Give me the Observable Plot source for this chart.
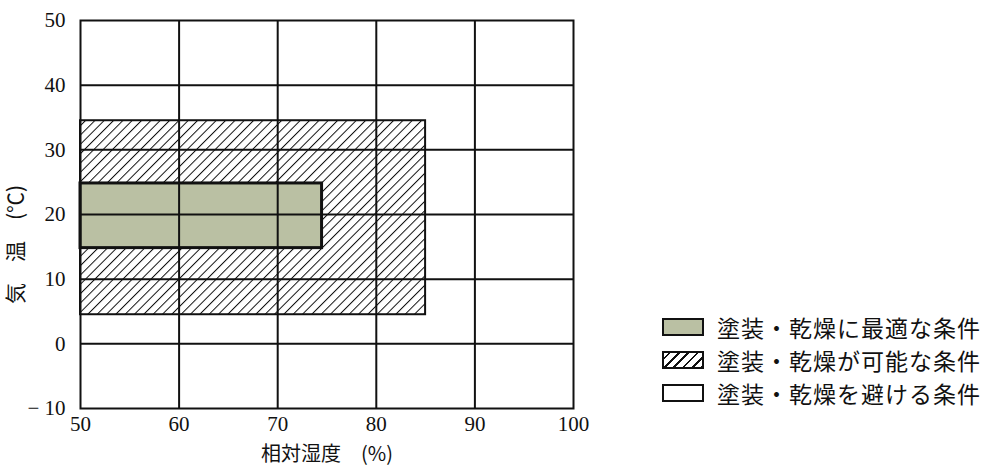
<!DOCTYPE html>
<html><head><meta charset="utf-8">
<script src="https://cdn.jsdelivr.net/npm/d3@7"></script>
<script src="https://cdn.jsdelivr.net/npm/@observablehq/plot@0.6"></script>
<style>
html,body{margin:0;padding:0;background:#fff;}
#wrap{position:relative;width:1000px;height:472px;overflow:hidden;}
#wrap svg g[aria-label="x-axis tick label"], #wrap svg g[aria-label="y-axis tick label"],
#wrap svg g[aria-label="x-axis tick label"] text, #wrap svg g[aria-label="y-axis tick label"] text {
  font-family: "Liberation Serif", "Times New Roman", "DejaVu Serif", serif !important;
  font-size: 21px !important;
}
#legend{position:absolute;left:662px;top:310px;font-family:"Noto Sans CJK JP";font-size:23px;color:#111;}
.row{display:flex;align-items:center;height:33px;}
.sw{width:42px;height:18px;border:2px solid #111;box-sizing:border-box;margin-right:13px;}
.lab{letter-spacing:1px;}
</style></head><body><div id="wrap"></div>
<script>
// ---- data ----
const xTicks = [50, 60, 70, 80, 90, 100];           // 相対湿度 (%)
const yTicks = [-10, 0, 10, 20, 30, 40, 50];        // 気温 (℃)
const regionNames = ["塗装・乾燥に最適な条件", "塗装・乾燥が可能な条件", "塗装・乾燥を避ける条件"];
const humidityFrom = [50, 50];
const humidityTo   = [85, 74.5];
const tempFrom     = [4.5, 14.8];
const tempTo       = [34.5, 24.8];
const regionKind   = ["possible", "optimal"];
const xTitle = "相対湿度　(%)";
const yTitle = "気　温　(℃)";

const regions = regionKind.map((k, i) => ({kind: k, x1: humidityFrom[i], x2: humidityTo[i], y1: tempFrom[i], y2: tempTo[i]}));

const GRAY = "#bac0a3";
const SERIF = "Liberation Serif, Times New Roman, DejaVu Serif, serif";
const CJK = "Noto Sans CJK JP, sans-serif";

const svg = Plot.plot({
  width: 1000,
  height: 472,
  marginLeft: 80,
  marginRight: 427,
  marginTop: 20,
  marginBottom: 64,
  style: {fontFamily: SERIF, fontSize: "21px", color: "#111", background: "#fff"},
  x: {domain: [50, 100]},
  y: {domain: [-10, 50]},
  marks: [
    Plot.rect(regions.filter(d => d.kind === "possible"), {x1: "x1", x2: "x2", y1: "y1", y2: "y2", fill: "url(#hatch)", stroke: "#111", strokeWidth: 2}),
    Plot.rect(regions.filter(d => d.kind === "optimal"), {x1: "x1", x2: "x2", y1: "y1", y2: "y2", fill: GRAY, stroke: "#111", strokeWidth: 3}),
    Plot.gridX(xTicks.slice(1, -1), {stroke: "#111", strokeOpacity: 1, strokeWidth: 2}),
    Plot.gridY(yTicks.slice(1, -1), {stroke: "#111", strokeOpacity: 1, strokeWidth: 2}),
    Plot.frame({stroke: "#111", strokeWidth: 2}),
    Plot.axisX(xTicks, {tickSize: 0, tickPadding: 8, label: null, fontFamily: SERIF, fontSize: 21, fill: "#111"}),
    Plot.axisY(yTicks, {tickSize: 0, tickPadding: 15, label: null, fontFamily: SERIF, fontSize: 21, fill: "#111",
      tickFormat: d => d < 0 ? "− " + Math.abs(d) : String(d)}),
    Plot.text([xTitle], {frameAnchor: "bottom", textAnchor: "middle", lineAnchor: "middle", dy: 46, fontFamily: CJK, fontSize: 20, fill: "#111"}),
    Plot.text([yTitle], {frameAnchor: "left", textAnchor: "middle", lineAnchor: "middle", rotate: -90, dx: -64, dy: 30, fontFamily: CJK, fontSize: 21, fill: "#111"})
  ]
});

// hatch pattern definition
const defs = d3.select(svg).insert("defs", ":first-child");
const pat = defs.append("pattern")
  .attr("id", "hatch")
  .attr("patternUnits", "userSpaceOnUse")
  .attr("width", 6.6).attr("height", 10)
  .attr("patternTransform", "rotate(45)");
pat.append("rect").attr("width", 6.6).attr("height", 10).attr("fill", "#fff");
pat.append("line").attr("x1", 0).attr("y1", 0).attr("x2", 0).attr("y2", 10)
  .attr("stroke", "#111").attr("stroke-width", 2);

const wrap = document.getElementById("wrap");
wrap.appendChild(svg);

// legend
const legend = d3.select(wrap).append("div").attr("id", "legend");
const swatchStyles = [
  `background:${GRAY};`,
  "background:repeating-linear-gradient(135deg,#fff 0 3px,#111 3px 4.8px,#fff 4.8px 6.6px);",
  "background:#fff;"
];
regionNames.forEach((name, i) => {
  const row = legend.append("div").attr("class", "row");
  row.append("div").attr("class", "sw").attr("style", swatchStyles[i]);
  row.append("span").attr("class", "lab").text(name);
});
</script>
</body></html>
